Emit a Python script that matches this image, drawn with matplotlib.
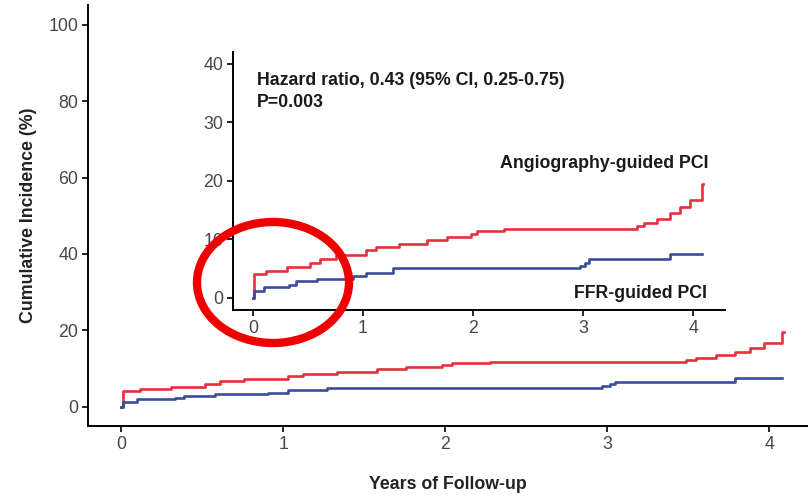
import matplotlib
matplotlib.use("Agg")
import matplotlib.pyplot as plt
from matplotlib.patches import Ellipse

# ---- data ----
years_ticks = [0, 1, 2, 3, 4]
main_yticks = [0, 20, 40, 60, 80, 100]
inset_yticks = [0, 10, 20, 30, 40]

angio_t = [0.0, 0.01, 0.12, 0.31, 0.52, 0.61, 0.76, 1.03, 1.12, 1.33, 1.58, 1.76,
           1.98, 2.04, 2.28, 3.49, 3.55, 3.67, 3.79, 3.88, 3.97, 4.08, 4.09]
angio_y = [0.0, 4.0, 4.6, 5.2, 5.9, 6.7, 7.3, 8.1, 8.6, 9.2, 9.8, 10.4,
           10.9, 11.4, 11.8, 12.2, 12.8, 13.5, 14.4, 15.5, 16.7, 19.5, 19.5]

ffr_t = [0.0, 0.01, 0.10, 0.33, 0.39, 0.58, 0.91, 1.03, 1.27, 2.97, 3.02, 3.05, 3.79, 4.08]
ffr_y = [0.0, 1.2, 1.9, 2.2, 2.85, 3.2, 3.7, 4.3, 5.0, 5.5, 6.0, 6.55, 7.45, 7.45]

hr_line1 = "Hazard ratio, 0.43 (95% CI, 0.25-0.75)"
hr_line2 = "P=0.003"
label_angio = "Angiography-guided PCI"
label_ffr = "FFR-guided PCI"
xlabel = "Years of Follow-up"
ylabel = "Cumulative Incidence (%)"

RED = "#e2323c"
BLUE = "#3b4c9c"
TICKC = "#484848"
TXT = "#1a1a1a"

plt.rcParams['font.family'] = ['Liberation Sans', 'DejaVu Sans']

W, H = 808, 495
fig = plt.figure(figsize=(W / 100, H / 100), dpi=100)

def box(l, t, r, b):
    return [l / W, 1 - b / H, (r - l) / W, (b - t) / H]

FS_TICK = 12.8
FS_LAB = 12.8
FS_TXT = 12.8

# ---- main axes ----
ax = fig.add_axes(box(88, 5, 808, 426))
ax.step(angio_t, angio_y, where='post', color=RED, lw=1.9)
ax.step(ffr_t, ffr_y, where='post', color=BLUE, lw=1.9)
ax.set_xlim(-0.204, 4.24)
ax.set_ylim(-5.05, 105.2)
ax.set_xticks(years_ticks)
ax.set_yticks(main_yticks)
for s in ['top', 'right']:
    ax.spines[s].set_visible(False)
for s in ['left', 'bottom']:
    ax.spines[s].set_linewidth(1.4)
    ax.spines[s].set_color('black')
ax.tick_params(axis='both', length=4, width=1.2, colors='black',
               labelcolor=TICKC, labelsize=FS_TICK, pad=3)
ax.set_xlabel(xlabel, fontsize=FS_LAB, fontweight='bold', color='#222222', labelpad=17)
ax.set_ylabel(ylabel, fontsize=FS_LAB, fontweight='bold', color='#222222', labelpad=8)

# ---- inset axes ----
ins = fig.add_axes(box(233, 52, 725, 310))
ins.step(angio_t, angio_y, where='post', color=RED, lw=1.9)
ins.step(ffr_t, ffr_y, where='post', color=BLUE, lw=1.9)
ins.set_xlim(-0.18, 4.29)
ins.set_ylim(-2.1, 42.0)
ins.set_xticks(years_ticks)
ins.set_yticks(inset_yticks)
for s in ['top', 'right']:
    ins.spines[s].set_visible(False)
for s in ['left', 'bottom']:
    ins.spines[s].set_linewidth(1.4)
    ins.spines[s].set_color('black')
ins.tick_params(axis='both', length=4, width=1.2, colors='black',
                labelcolor=TICKC, labelsize=FS_TICK, pad=3)
ins.patch.set_alpha(0)

ins.text(0.04, 37.15, hr_line1, fontsize=FS_TXT, fontweight='bold', color=TXT,
         ha='left', va='center')
ins.text(0.04, 33.4, hr_line2, fontsize=FS_TXT, fontweight='bold', color=TXT,
         ha='left', va='center')
ins.text(4.14, 23.0, label_angio, fontsize=FS_TXT, fontweight='bold', color=TXT,
         ha='right', va='center')
ins.text(4.13, 0.8, label_ffr, fontsize=FS_TXT, fontweight='bold', color=TXT,
         ha='right', va='center')

# ---- red highlight ellipse ----
ell = Ellipse((273 / W, 1 - 282.5 / H), 152 / W, 121 / H, transform=fig.transFigure,
              fill=False, edgecolor='#ee0000', lw=6.0, zorder=10)
fig.patches.append(ell)

fig.savefig("out.png", dpi=100)
